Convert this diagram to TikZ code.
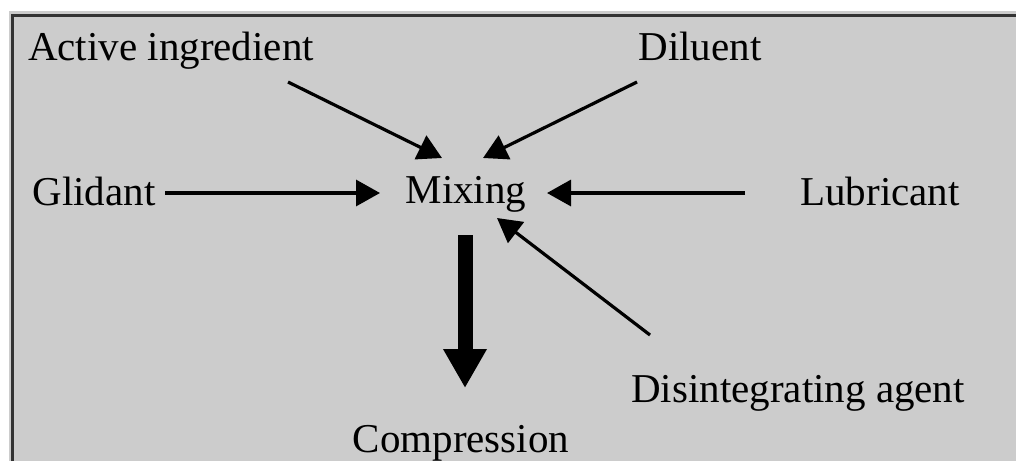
\documentclass[tikz,border=0pt]{standalone}
\usepackage{fontspec}
\setmainfont{Liberation Serif}
\usetikzlibrary{arrows.meta}
\definecolor{bggray}{HTML}{CCCCCC}
\definecolor{framecol}{HTML}{333333}
\tikzset{
  lbl/.style={inner sep=0pt, anchor=base, font=\fontsize{41}{49}\selectfont},
  thinarr/.style={line width=3.2pt, -{Triangle[length=24pt,width=26pt]}},
  thickarr/.style={line width=15pt, -{Triangle[length=39pt,width=41pt]}},
}
\begin{document}
\begin{tikzpicture}[x=1pt,y=-1pt]
\useasboundingbox (0,0) rectangle (1016,461);
\fill[white] (0,0) rectangle (1016,461);
\fill[bggray] (9,11) rectangle (1016,461);
\draw[framecol, line width=3pt] (12,461) -- (12,15) -- (1016,15);

\node[lbl] (act) at (171,60) {Active ingredient};
\node[lbl] (dil) at (700,60) {Diluent};
\node[lbl] (gli) at (94,205) {Glidant};
\node[lbl] (mix) at (466,203) {Mixing};
\node[lbl] (lub) at (880,205) {Lubricant};
\node[lbl] (dis) at (798,402) {Disintegrating agent};
\node[lbl] (com) at (461,452) {Compression};

\draw[thinarr] ([shift={(117,22)}]act.base) -- ([shift={(-24,-45)}]mix.base);
\draw[thinarr] ([shift={(-63,22)}]dil.base) -- ([shift={(17,-45)}]mix.base);
\draw[thinarr] ([shift={(71,-12)}]gli.base) -- ([shift={(-86,-10)}]mix.base);
\draw[thinarr] ([shift={(-135,-12)}]lub.base) -- ([shift={(81,-10)}]mix.base);
\draw[thinarr] ([shift={(-148,-67)}]dis.base) -- ([shift={(31,15)}]mix.base);
\draw[thickarr] ([shift={(-1,32)}]mix.base) -- ([shift={(4,-64)}]com.base);
\end{tikzpicture}
\end{document}
